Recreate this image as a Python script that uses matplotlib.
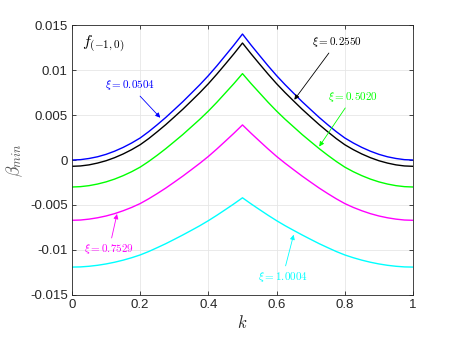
import matplotlib
matplotlib.use("Agg")
import matplotlib.pyplot as plt

plt.rcParams['mathtext.fontset'] = 'cm'
plt.rcParams['font.family'] = ['Liberation Sans', 'DejaVu Sans']

k = [0.000, 0.025, 0.050, 0.075, 0.100, 0.125, 0.150, 0.175, 0.200, 0.225,
     0.250, 0.275, 0.300, 0.325, 0.350, 0.375, 0.400, 0.425, 0.450, 0.475,
     0.500,
     0.525, 0.550, 0.575, 0.600, 0.625, 0.650, 0.675, 0.700, 0.725, 0.750,
     0.775, 0.800, 0.825, 0.850, 0.875, 0.900, 0.925, 0.950, 0.975, 1.000]

beta_0504 = [0.00000, 0.00004, 0.00017, 0.00036, 0.00063, 0.00098, 0.00140, 0.00189, 0.00245, 0.00315,
             0.00392, 0.00473, 0.00560, 0.00648, 0.00742, 0.00837, 0.00938, 0.01047, 0.01162, 0.01278,
             0.01400,
             0.01278, 0.01162, 0.01047, 0.00938, 0.00837, 0.00742, 0.00648, 0.00560, 0.00473, 0.00392,
             0.00315, 0.00245, 0.00189, 0.00140, 0.00098, 0.00063, 0.00036, 0.00017, 0.00004, 0.00000]
beta_2550 = [-0.00070, -0.00066, -0.00054, -0.00034, -0.00008, 0.00026, 0.00067, 0.00115, 0.00170, 0.00238,
             0.00314, 0.00393, 0.00478, 0.00564, 0.00656, 0.00749, 0.00848, 0.00955, 0.01067, 0.01181,
             0.01300,
             0.01181, 0.01067, 0.00955, 0.00848, 0.00749, 0.00656, 0.00564, 0.00478, 0.00393, 0.00314,
             0.00238, 0.00170, 0.00115, 0.00067, 0.00026, -0.00008, -0.00034, -0.00054, -0.00066, -0.00070]
beta_5020 = [-0.00300, -0.00296, -0.00285, -0.00267, -0.00243, -0.00212, -0.00174, -0.00130, -0.00079, -0.00016,
             0.00053, 0.00126, 0.00204, 0.00283, 0.00368, 0.00453, 0.00544, 0.00642, 0.00746, 0.00850,
             0.00960,
             0.00850, 0.00746, 0.00642, 0.00544, 0.00453, 0.00368, 0.00283, 0.00204, 0.00126, 0.00053,
             -0.00016, -0.00079, -0.00130, -0.00174, -0.00212, -0.00243, -0.00267, -0.00285, -0.00296, -0.00300]
beta_7529 = [-0.00670, -0.00667, -0.00657, -0.00642, -0.00622, -0.00596, -0.00564, -0.00527, -0.00484, -0.00431,
             -0.00373, -0.00312, -0.00246, -0.00179, -0.00108, -0.00036, 0.00040, 0.00123, 0.00210, 0.00298,
             0.00390,
             0.00298, 0.00210, 0.00123, 0.00040, -0.00036, -0.00108, -0.00179, -0.00246, -0.00312, -0.00373,
             -0.00431, -0.00484, -0.00527, -0.00564, -0.00596, -0.00622, -0.00642, -0.00657, -0.00667, -0.00670]
beta_10004 = [-0.01190, -0.01188, -0.01181, -0.01170, -0.01155, -0.01136, -0.01113, -0.01086, -0.01055, -0.01017,
              -0.00974, -0.00930, -0.00882, -0.00833, -0.00782, -0.00730, -0.00674, -0.00614, -0.00551, -0.00487,
              -0.00420,
              -0.00487, -0.00551, -0.00614, -0.00674, -0.00730, -0.00782, -0.00833, -0.00882, -0.00930, -0.00974,
              -0.01017, -0.01055, -0.01086, -0.01113, -0.01136, -0.01155, -0.01170, -0.01181, -0.01188, -0.01190]

series = [
    (beta_0504, '#0000ff', r'$\xi = 0.0504$', (0.170, 0.0083), (0.259, 0.0047)),
    (beta_2550, '#000000', r'$\xi = 0.2550$', (0.777, 0.0131), (0.652, 0.0067)),
    (beta_5020, '#00ff00', r'$\xi = 0.5020$', (0.823, 0.0070), (0.725, 0.0015)),
    (beta_7529, '#ff00ff', r'$\xi = 0.7529$', (0.109, -0.0099), (0.132, -0.0060)),
    (beta_10004, '#00ffff', r'$\xi = 1.0004$', (0.618, -0.0130), (0.650, -0.0083)),
]

xticks = [0, 0.2, 0.4, 0.6, 0.8, 1]
xticklabels = ['0', '0.2', '0.4', '0.6', '0.8', '1']
yticks = [-0.015, -0.01, -0.005, 0, 0.005, 0.01, 0.015]
yticklabels = ['-0.015', '-0.01', '-0.005', '0', '0.005', '0.01', '0.015']

fig = plt.figure(figsize=(4.57, 3.43), dpi=100)
ax = fig.add_axes([0.1575, 0.140, 0.7462, 0.787])

axcol = '#262626'
for vals, col, lab, tpos, tip in series:
    ax.plot(k, vals, color=col, lw=1.0)
    ax.annotate(lab, xy=tip, xytext=tpos, color=col, fontsize=8,
                ha='center', va='center',
                arrowprops=dict(arrowstyle='-|>', color=col, lw=0.6,
                                mutation_scale=7, shrinkA=1, shrinkB=0))

ax.set_xlim(0, 1)
ax.set_ylim(-0.015, 0.015)
ax.set_xticks(xticks)
ax.set_xticklabels(xticklabels)
ax.set_yticks(yticks)
ax.set_yticklabels(yticklabels)
ax.grid(True, color='#e6e6e6', lw=0.6)
ax.set_axisbelow(True)
ax.tick_params(direction='in', top=True, right=True, length=3, width=0.6,
               labelsize=9.5, colors=axcol, pad=3)
for s in ax.spines.values():
    s.set_color(axcol)
    s.set_linewidth(0.6)

ax.text(0.03, 0.93, r'$f_{(-1,0)}$', transform=ax.transAxes, fontsize=11.5,
        ha='left', va='center', color='k')
ax.set_xlabel(r'$k$', fontsize=12, color=axcol, labelpad=2)
ax.set_ylabel(r'$\beta_{min}$', fontsize=12.5, color='#555555', labelpad=4)

fig.savefig('out.png', dpi=100)
